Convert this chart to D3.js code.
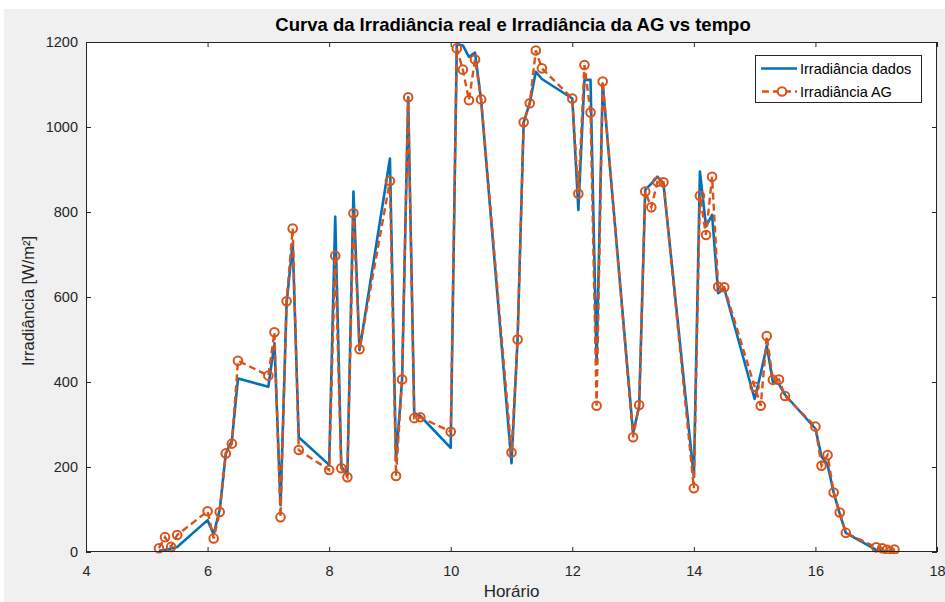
<!DOCTYPE html>
<html>
<head>
<meta charset="utf-8">
<script src="https://cdn.jsdelivr.net/npm/d3@7"></script>
<style>
  html, body { margin: 0; padding: 0; background: #ffffff; }
  svg { display: block; font-family: "Liberation Sans", Arial, sans-serif; }
</style>
</head>
<body>
<svg id="chart" width="945" height="602"></svg>
<script>
// ---- data ----
const hours = [5.2,5.3,5.4,5.5, 6.0,6.1,6.2,6.3,6.4,6.5, 7.0,7.1,7.2,7.3,7.4,7.5,
  8.0,8.1,8.2,8.3,8.4,8.5, 9.0,9.1,9.2,9.3,9.4,9.5, 10.0,10.1,10.2,10.3,10.4,10.5,
  11.0,11.1,11.2,11.3,11.4,11.5, 12.0,12.1,12.2,12.3,12.4,12.5, 13.0,13.1,13.2,13.3,13.4,13.5,
  14.0,14.1,14.2,14.3,14.4,14.5, 15.0,15.1,15.2,15.3,15.4,15.5, 16.0,16.1,16.2,16.3,16.4,16.5,
  17.0,17.1,17.18,17.23,17.3];
const irradDados = [3,5,8,12, 75,42,100,232,262,408, 389,491,110,585,727,270,
  205,789,201,181,848,475, 926,215,406,1070,327,320, 245,1195,1192,1165,1175,1063,
  209,500,1011,1056,1130,1113, 1067,805,1111,1111,444,1102, 280,342,852,867,883,867,
  177,895,766,793,609,620, 360,420,485,400,395,370, 290,225,205,140,90,45,
  5,3,2,1,2];
const irradAG = [9,35,12,40, 96,32,94,232,255,450, 415,517,82,590,761,240,
  193,697,197,176,797,477, 873,179,406,1070,315,317, 283,1185,1135,1063,1159,1065,
  234,500,1011,1056,1180,1138, 1067,843,1146,1034,344,1107, 270,346,848,811,871,870,
  150,838,746,883,624,623, 389,344,508,405,406,367, 295,203,228,140,93,45,
  11,9,5,1,6];
const xTicks = [4,6,8,10,12,14,16,18];
const yTicks = [0,200,400,600,800,1000,1200];
const seriesNames = ["Irradiância dados", "Irradiância AG"];
const titleText = "Curva da Irradiância real e Irradiância da AG vs tempo";
const xLabelText = "Horário";
const yLabelText = "Irradiância [W/m²]";

// ---- layout ----
const W = 945, H = 602;
const L = 86, R = 937, T = 42, B = 552;
const axisColor = "#262626";
const blue = "#0072BD", orange = "#D95319";

const svg = d3.select("#chart");
svg.append("rect").attr("x", 4).attr("y", 9).attr("width", W - 4).attr("height", H - 9).attr("fill", "#f0f0f0");
svg.append("rect").attr("x", L).attr("y", T).attr("width", R - L).attr("height", B - T).attr("fill", "#ffffff");

const x = d3.scaleLinear().domain([4, 18]).range([L, R]);
const y = d3.scaleLinear().domain([0, 1200]).range([B, T]);

svg.append("clipPath").attr("id", "clip").append("rect")
  .attr("x", L).attr("y", T - 2).attr("width", R - L).attr("height", B - T + 4);

const pts = (vals) => hours.map((h, i) => [h, vals[i]]);
const line = d3.line().x(d => x(d[0])).y(d => y(d[1]));

const g = svg.append("g").attr("clip-path", "url(#clip)");
g.append("path").datum(pts(irradDados)).attr("d", line)
  .attr("fill", "none").attr("stroke", blue).attr("stroke-width", 2.6).attr("stroke-linejoin", "round");
g.append("path").datum(pts(irradAG)).attr("d", line)
  .attr("fill", "none").attr("stroke", orange).attr("stroke-width", 2.4)
  .attr("stroke-dasharray", "7,4");
g.selectAll("circle.ag").data(pts(irradAG)).join("circle").attr("class", "ag")
  .attr("cx", d => x(d[0])).attr("cy", d => y(d[1])).attr("r", 4.3)
  .attr("fill", "none").attr("stroke", orange).attr("stroke-width", 2);

// ---- axes ----
const tickLen = 5;
const fmt = d3.format("d");
const axB = svg.append("g").attr("transform", `translate(0,${B})`)
  .call(d3.axisBottom(x).tickValues(xTicks).tickFormat(fmt).tickSizeInner(-tickLen).tickSizeOuter(0).tickPadding(14));
const axT = svg.append("g").attr("transform", `translate(0,${T})`)
  .call(d3.axisTop(x).tickValues(xTicks).tickFormat("").tickSizeInner(-tickLen).tickSizeOuter(0));
const axL = svg.append("g").attr("transform", `translate(${L},0)`)
  .call(d3.axisLeft(y).tickValues(yTicks).tickFormat(fmt).tickSizeInner(-tickLen).tickSizeOuter(0).tickPadding(8));
const axR = svg.append("g").attr("transform", `translate(${R},0)`)
  .call(d3.axisRight(y).tickValues(yTicks).tickFormat("").tickSizeInner(-tickLen).tickSizeOuter(0));
[axB, axT, axL, axR].forEach(a => {
  a.select(".domain").remove();
  a.selectAll("line").attr("stroke", axisColor).attr("stroke-width", 1);
  a.selectAll("text").attr("fill", axisColor).attr("font-size", 14.5)
    .attr("font-family", "'Liberation Sans', Arial, sans-serif");
});
svg.append("rect").attr("x", L + 0.5).attr("y", T + 0.5).attr("width", R - L - 1).attr("height", B - T - 1)
  .attr("fill", "none").attr("stroke", axisColor).attr("stroke-width", 1);

// ---- labels ----
svg.append("text").attr("x", 513).attr("y", 30.5).attr("text-anchor", "middle")
  .attr("font-size", 18.5).attr("font-weight", "bold").attr("fill", "#000").text(titleText);
svg.append("text").attr("x", (L + R) / 2).attr("y", 597).attr("text-anchor", "middle")
  .attr("font-size", 17).attr("fill", axisColor).text(xLabelText);
svg.append("text").attr("transform", `translate(34,${(T + B) / 2 + 4}) rotate(-90)`).attr("text-anchor", "middle")
  .attr("font-size", 16.5).attr("fill", axisColor).text(yLabelText);

// ---- legend ----
const lg = svg.append("g");
lg.append("rect").attr("x", 755.5).attr("y", 55.5).attr("width", 166).attr("height", 47)
  .attr("fill", "#ffffff").attr("stroke", axisColor).attr("stroke-width", 1);
const legY = [68.5, 91.5];
lg.append("line").attr("x1", 761).attr("x2", 797).attr("y1", legY[0]).attr("y2", legY[0])
  .attr("stroke", blue).attr("stroke-width", 2.6);
lg.append("line").attr("x1", 761).attr("x2", 797).attr("y1", legY[1]).attr("y2", legY[1])
  .attr("stroke", orange).attr("stroke-width", 2.4).attr("stroke-dasharray", "7,4")
  .attr("stroke-dashoffset", -1);
lg.append("circle").attr("cx", 782).attr("cy", legY[1]).attr("r", 4.3)
  .attr("fill", "#ffffff").attr("stroke", orange).attr("stroke-width", 2);
seriesNames.forEach((n, i) => {
  lg.append("text").attr("x", 800).attr("y", legY[i]).attr("dy", "0.35em")
    .attr("font-size", 14.5).attr("fill", "#000").text(n);
});
</script>
</body>
</html>
